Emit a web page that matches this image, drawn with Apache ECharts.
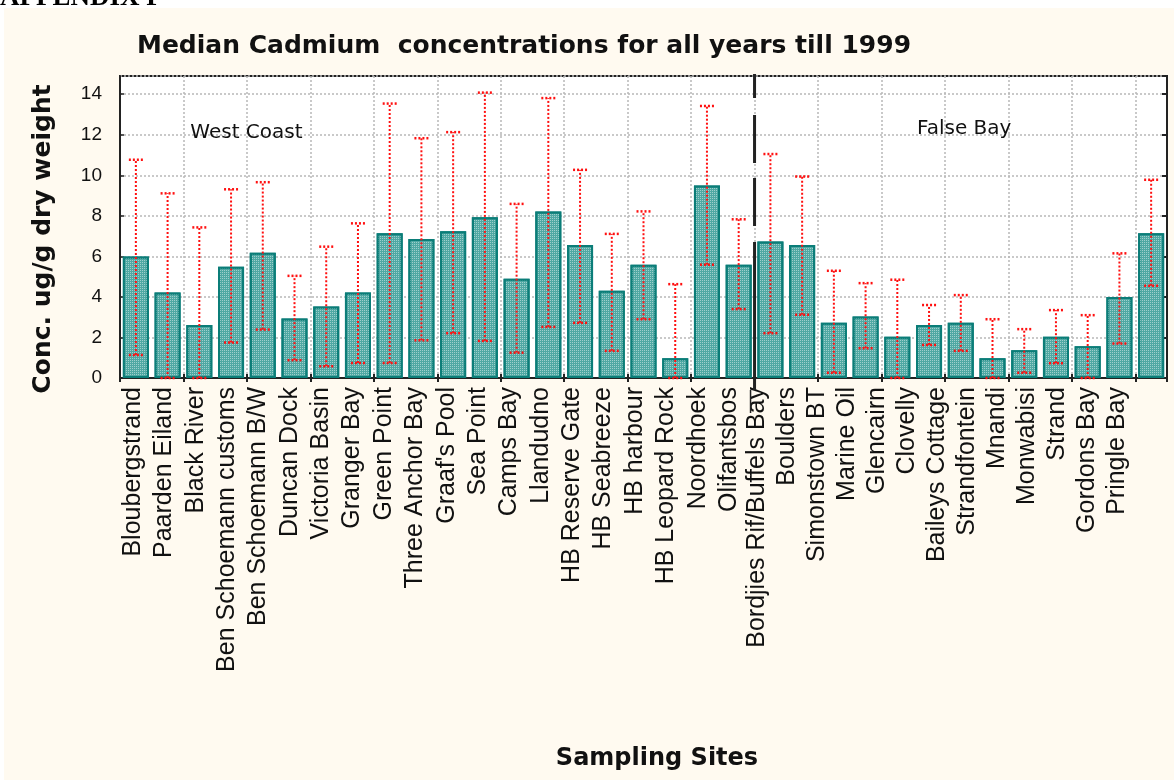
<!DOCTYPE html>
<html>
<head>
<meta charset="utf-8">
<script src="https://cdn.jsdelivr.net/npm/echarts@6/dist/echarts.min.js"></script>
<style>
html,body{margin:0;padding:0;background:#fff;}
#chart{width:1174px;height:780px;}
</style>
</head>
<body>
<div id="chart"></div>
<script>
const categories = ["Bloubergstrand","Paarden Eiland","Black River","Ben Schoemann customs","Ben Schoemann B/W","Duncan Dock","Victoria Basin","Granger Bay","Green Point","Three Anchor Bay","Graaf's Pool","Sea Point","Camps Bay","Llandudno","HB Reserve Gate","HB Seabreeze","HB harbour","HB Leopard Rock","Noordhoek","Olifantsbos","Bordjies Rif/Buffels Bay","Boulders","Simonstown BT","Marine Oil","Glencairn","Clovelly","Baileys Cottage","Strandfontein","Mnandi","Monwabisi","Strand","Gordons Bay","Pringle Bay"];
const medians = [6.0,4.22,2.62,5.49,6.18,2.93,3.53,4.22,7.14,6.86,7.24,7.93,4.9,8.22,6.56,4.3,5.59,0.97,9.5,5.59,6.74,6.56,2.73,3.03,2.04,2.62,2.73,0.97,1.37,2.04,1.57,4.0,7.14];
const lower = [1.14,0.0,0.0,1.75,2.39,0.88,0.58,0.74,0.74,1.86,2.21,1.83,1.25,2.52,2.72,1.34,2.9,0.0,5.59,3.4,2.21,3.12,0.26,1.47,0.0,1.63,1.34,0.0,0.26,0.73,0.0,1.7,4.55];
const upper = [10.77,9.11,7.43,9.31,9.66,5.04,6.48,7.63,13.54,11.83,12.13,14.08,8.59,13.81,10.27,7.11,8.22,4.63,13.42,7.83,11.05,9.94,5.29,4.68,4.85,3.6,4.09,2.9,2.41,3.35,3.1,6.15,9.78];
const westCoastCount = 20;
const yTicks = [0,2,4,6,8,10,12,14];
const titleText = "Median Cadmium  concentrations for all years till 1999";
const yName = "Conc. ug/g dry weight";
const xName = "Sampling Sites";
const regionLabels = ["West Coast","False Bay"];

const chart = echarts.init(document.getElementById('chart'));
const FONT = 'Arial, "Liberation Sans", sans-serif';
const WFONT = '"DejaVu Sans", Verdana, sans-serif';

const labelAxis = (data, gridIndex) => ({
  type: 'category', data: data, gridIndex: gridIndex, position: 'bottom',
  axisLine: {show: false}, axisTick: {show: false}, splitLine: {show: false},
  axisLabel: {interval: 0, rotate: 90, margin: 9, fontFamily: FONT, fontSize: 25, color: '#111'}
});
const hiddenY = gi => ({type: 'value', gridIndex: gi, show: false, min: 0, max: 14.9});

const option = {
  backgroundColor: '#ffffff',
  animation: false,
  title: {
    text: titleText, left: 132, top: 29,
    textStyle: {fontFamily: WFONT, fontSize: 25, fontWeight: 'bold', color: '#111'}
  },
  grid: [
    {left: 120, right: 7, top: 76, bottom: 402, show: true, backgroundColor: '#ffffff', borderColor: '#222', borderWidth: 2},
    {left: 117.3, right: 1174 - 744.7, top: 76, bottom: 402, show: false},
    {left: 742, right: 42, top: 76, bottom: 402, show: false}
  ],
  xAxis: [{
    type: 'category', data: categories, position: 'bottom', gridIndex: 0,
    axisLine: {show: true, lineStyle: {color: '#222', width: 2}},
    axisTick: {show: true, inside: true, interval: 1, length: 4, lineStyle: {color: '#222', width: 2}},
    axisLabel: {show: false},
    splitLine: {show: true, interval: 1, lineStyle: {color: '#b8b8b8', type: [2, 2], width: 1.5}}
  }, {
    type: 'category', data: categories, position: 'top', gridIndex: 0,
    axisLine: {show: true, lineStyle: {color: '#222', width: 2}},
    axisTick: {show: true, inside: true, interval: 1, length: 4, lineStyle: {color: '#222', width: 2}},
    axisLabel: {show: false}, splitLine: {show: false}
  },
  labelAxis(categories.slice(0, westCoastCount), 1),
  labelAxis(categories.slice(westCoastCount), 2)],
  yAxis: [{
    type: 'value', min: 0, max: 14.9, interval: 2, gridIndex: 0,
    axisLine: {show: true, lineStyle: {color: '#222', width: 2}},
    axisTick: {show: true, inside: true, length: 4, lineStyle: {color: '#222', width: 1.5}},
    axisLabel: {margin: 18, fontFamily: FONT, fontSize: 19, color: '#111', showMaxLabel: false,
      formatter: v => yTicks.indexOf(v) >= 0 ? String(v) : ''},
    splitLine: {show: true, lineStyle: {color: '#b8b8b8', type: [2, 2], width: 1.5}}
  }, {
    type: 'value', min: 0, max: 14.9, interval: 2, position: 'right', gridIndex: 0,
    axisLine: {show: true, lineStyle: {color: '#222', width: 2}},
    axisTick: {show: true, inside: true, length: 5, lineStyle: {color: '#222', width: 2}},
    axisLabel: {show: false}, splitLine: {show: false}
  }, hiddenY(1), hiddenY(2)],
  series: [{
    type: 'bar', data: medians, barWidth: '82%', xAxisIndex: 0, yAxisIndex: 0,
    itemStyle: {
      color: '#4fa8a3', borderColor: '#0b7d78', borderWidth: 2,
      decal: {symbol: 'rect', symbolSize: 1, dashArrayX: [1, 1], dashArrayY: [1, 1], color: 'rgba(255,255,255,0.45)'}
    },
    z: 2
  }, {
    type: 'custom', z: 5, xAxisIndex: 0, yAxisIndex: 0,
    data: categories.map((c, i) => [i, lower[i], upper[i]]),
    renderItem: function (params, api) {
      const lo = api.coord([api.value(0), api.value(1)]);
      const hi = api.coord([api.value(0), api.value(2)]);
      const cw = 7;
      const st = {stroke: '#ff1010', lineWidth: 2, lineDash: [2, 2]};
      const cs = {stroke: '#ff1010', lineWidth: 2.5, lineDash: [2, 2]};
      return {type: 'group', children: [
        {type: 'line', shape: {x1: lo[0], y1: lo[1], x2: hi[0], y2: hi[1]}, style: st},
        {type: 'line', shape: {x1: hi[0] - cw, y1: hi[1], x2: hi[0] + cw, y2: hi[1]}, style: cs},
        {type: 'line', shape: {x1: lo[0] - cw, y1: lo[1], x2: lo[0] + cw, y2: lo[1]}, style: cs}
      ]};
    }
  }]
};
chart.setOption(option);

// divider between the West Coast and False Bay sites, placed from the axis scale
const a = chart.convertToPixel({xAxisIndex: 0}, categories[westCoastCount - 1]);
const b = chart.convertToPixel({xAxisIndex: 0}, categories[westCoastCount]);
const divX = (a + b) / 2;
const wcPt = chart.convertToPixel({xAxisIndex: 0, yAxisIndex: 0}, [2, 12.1]);
const fbPt = chart.convertToPixel({xAxisIndex: 0, yAxisIndex: 0}, [25, 12.3]);

chart.setOption({
  graphic: [
    {type: 'rect', silent: true, z: -10, shape: {x: 4, y: 8, width: 1170, height: 772}, style: {fill: '#fffaf0'}},
    {type: 'text', silent: true, z: -5, left: 0, top: -15, style: {text: 'APPENDIX F', fontFamily: '"Liberation Serif", "DejaVu Serif", serif', fontWeight: 'bold', fontSize: 27, fill: '#000'}},
    {type: 'line', silent: true, z: 100, shape: {x1: divX, y1: 74, x2: divX, y2: 242}, style: {stroke: '#222', lineWidth: 3, lineDash: [24, 17, 48, 15, 48, 16]}},
    {type: 'line', silent: true, z: 100, shape: {x1: divX, y1: 242, x2: divX, y2: 390}, style: {stroke: '#222', lineWidth: 3}},
    {type: 'line', silent: true, z: 100, shape: {x1: divX - 4, y1: 390, x2: divX - 4, y2: 413}, style: {stroke: '#222', lineWidth: 1.5}},
    {type: 'text', silent: true, z: 100, x: wcPt[0] - 9, y: wcPt[1], style: {text: regionLabels[0], fontFamily: WFONT, fontSize: 20, fill: '#111', textVerticalAlign: 'middle', textAlign: 'left'}},
    {type: 'text', silent: true, z: 100, x: fbPt[0] - 12, y: fbPt[1], style: {text: regionLabels[1], fontFamily: WFONT, fontSize: 20, fill: '#111', textVerticalAlign: 'middle', textAlign: 'left'}},
    {type: 'text', silent: true, z: 100, x: 43, y: 239, rotation: Math.PI / 2, style: {text: yName, fontFamily: WFONT, fontSize: 25, fontWeight: 'bold', fill: '#111', textAlign: 'center', textVerticalAlign: 'middle'}},
    {type: 'text', silent: true, z: 100, x: 657, y: 759, style: {text: xName, fontFamily: WFONT, fontSize: 24, fontWeight: 'bold', fill: '#111', textAlign: 'center', textVerticalAlign: 'middle'}}
  ]
});
</script>
</body>
</html>
